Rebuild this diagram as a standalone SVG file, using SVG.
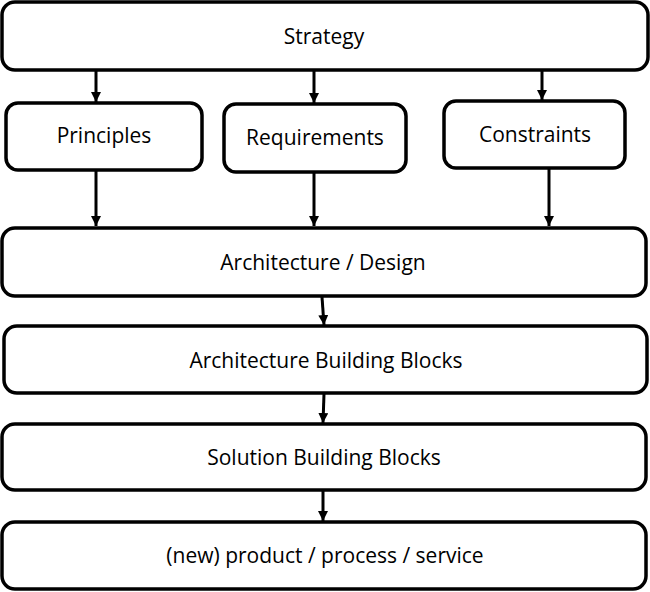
<svg xmlns="http://www.w3.org/2000/svg" width="650" height="592" viewBox="0 0 650 592">
<defs>
<style>
.box{fill:#fff;stroke:#000;stroke-width:3.5}
.lbl{font-family:"Open Sans","Liberation Sans",sans-serif;font-size:21px;fill:#000;text-anchor:middle}
.con{stroke:#000;stroke-width:3;fill:none}
</style>
<marker id="ah" viewBox="0 0 10 10" refX="10" refY="5" markerWidth="10" markerHeight="10" markerUnits="userSpaceOnUse" orient="auto">
<path d="M0,0 L10,5 L0,10 Z" fill="#000"/>
</marker>
</defs>
<rect width="650" height="592" fill="#fff"/>
<g id="strategy"><rect class="box" x="2" y="2" width="646" height="68" rx="13"/><text class="lbl" x="324" y="44">Strategy</text></g>
<g id="principles"><rect class="box" x="6" y="103" width="196" height="67" rx="12"/><text class="lbl" x="104" y="143">Principles</text></g>
<g id="requirements"><rect class="box" x="224" y="104" width="182" height="68" rx="12"/><text class="lbl" x="315" y="145">Requirements</text></g>
<g id="constraints"><rect class="box" x="444" y="101" width="181" height="67" rx="12"/><text class="lbl" x="535" y="142">Constraints</text></g>
<g id="architecture"><rect class="box" x="2" y="228" width="644" height="68" rx="13"/><text class="lbl" x="323" y="270">Architecture / Design</text></g>
<g id="abb"><rect class="box" x="4" y="326" width="643" height="67" rx="13"/><text class="lbl" x="326" y="368">Architecture Building Blocks</text></g>
<g id="sbb"><rect class="box" x="2" y="424" width="644" height="66" rx="13"/><text class="lbl" x="324" y="465">Solution Building Blocks</text></g>
<g id="product"><rect class="box" x="2" y="522" width="644" height="67" rx="13"/><text class="lbl" x="325" y="563">(new) product / process / service</text></g>
<g id="connectors">
<line class="con" x1="96" y1="71" x2="96" y2="102" marker-end="url(#ah)"/>
<line class="con" x1="314" y1="71" x2="314" y2="103" marker-end="url(#ah)"/>
<line class="con" x1="542" y1="71" x2="542" y2="100" marker-end="url(#ah)"/>
<line class="con" x1="96" y1="171" x2="96" y2="226" marker-end="url(#ah)"/>
<line class="con" x1="314" y1="173" x2="314" y2="226" marker-end="url(#ah)"/>
<line class="con" x1="549" y1="169" x2="549" y2="226" marker-end="url(#ah)"/>
<line class="con" x1="322" y1="297" x2="324" y2="325" marker-end="url(#ah)"/>
<line class="con" x1="324" y1="394" x2="323" y2="423" marker-end="url(#ah)"/>
<line class="con" x1="323" y1="491" x2="323" y2="521" marker-end="url(#ah)"/>
</g>
</svg>
